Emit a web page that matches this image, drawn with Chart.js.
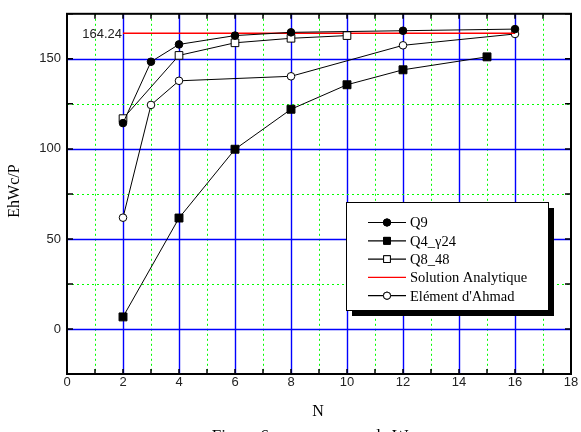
<!DOCTYPE html>
<html>
<head>
<meta charset="utf-8">
<script src="https://cdn.jsdelivr.net/npm/chart.js@4.4.1/dist/chart.umd.min.js"></script>
<style>
    html, body { margin: 0; padding: 0; background: #fff; }
    #wrap { width: 581px; height: 432px; position: relative; }
</style>
</head>
<body>
<div id="wrap"><canvas id="chart" width="581" height="432"></canvas></div>
<script>
// Valeurs
const xQ9 = [2, 3, 4, 6, 8, 12, 16];
const yQ9 = [114.3, 148.4, 158, 162.9, 164.7, 165.6, 166.5];

const xQ4 = [2, 4, 6, 8, 10, 12, 15];
const yQ4 = [6.7, 61.6, 99.8, 122, 135.6, 143.9, 151.1];

const xQ8 = [2, 4, 6, 8, 10];
const yQ8 = [116.8, 151.9, 158.9, 161.4, 162.9];

const xSol = [2, 16];
const ySol = [164.24, 164.24];

const xAhmad = [2, 3, 4, 8, 12, 16];
const yAhmad = [61.8, 124.4, 137.8, 140.3, 157.5, 163.8];

const xLabels = [0, 2, 4, 6, 8, 10, 12, 14, 16, 18];
const yLabels = [0, 50, 100, 150];

const seriesNames = ['Q9', 'Q4_\u03b324', 'Q8_48', 'Solution Analytique', "El\u00e9ment d'Ahmad"];

function pts(xs, ys) {
    return xs.map((x, i) => ({ x: x, y: ys[i] }));
}

const SERIF = "'Liberation Serif', 'Times New Roman', serif";
const SANS = "'Liberation Sans', Arial, sans-serif";
const BLUE = '#0000ff';
const GREEN = '#00ff00';

/**
 * Grille bleue (majeure) et verte pointillee (mineure)
 */
const gridPlugin = {
    id: 'grille',
    beforeDatasetsDraw(chart) {
        const ctx = chart.ctx;
        const a = chart.chartArea;
        const xs = chart.scales.x;
        const ys = chart.scales.y;
        ctx.save();
        for (let v = 1; v < 18; v++) {
            const px = Math.round(xs.getPixelForValue(v)) + 0.5;
            const major = v % 2 === 0;
            ctx.strokeStyle = major ? BLUE : GREEN;
            ctx.lineWidth = major ? 1.4 : 1;
            ctx.setLineDash(major ? [] : [2, 3]);
            ctx.beginPath();
            ctx.moveTo(px, a.top); ctx.lineTo(px, a.bottom);
            ctx.stroke();
        }
        for (let v = 0; v < 175; v += 25) {
            const py = Math.round(ys.getPixelForValue(v)) + 0.5;
            const major = v % 50 === 0;
            ctx.strokeStyle = major ? BLUE : GREEN;
            ctx.lineWidth = major ? 1.4 : 1;
            ctx.setLineDash(major ? [] : [2, 3]);
            ctx.beginPath();
            ctx.moveTo(a.left, py); ctx.lineTo(a.right, py);
            ctx.stroke();
        }
        ctx.restore();
    }
};

/**
 * Cadre, petites graduations, textes et legende
 */
const decorPlugin = {
    id: 'decor',
    afterDatasetsDraw(chart) {
        const ctx = chart.ctx;
        const a = chart.chartArea;
        const xs = chart.scales.x;
        const ys = chart.scales.y;
        ctx.save();

        // graduations interieures
        ctx.strokeStyle = '#000';
        ctx.lineWidth = 1.5;
        ctx.beginPath();
        for (let v = 0; v <= 18; v++) {
            const px = xs.getPixelForValue(v);
            ctx.moveTo(px, a.bottom); ctx.lineTo(px, a.bottom - 5);
            ctx.moveTo(px, a.top); ctx.lineTo(px, a.top + 5);
        }
        for (let v = -25; v <= 175; v += 25) {
            const py = ys.getPixelForValue(v);
            ctx.moveTo(a.left, py); ctx.lineTo(a.left + 6, py);
            ctx.moveTo(a.right, py); ctx.lineTo(a.right - 6, py);
        }
        ctx.stroke();

        // cadre
        ctx.lineWidth = 2;
        ctx.strokeRect(a.left, a.top, a.right - a.left, a.bottom - a.top);

        // valeur analytique
        ctx.fillStyle = '#222';
        ctx.font = '13px ' + SANS;
        ctx.textAlign = 'right';
        ctx.textBaseline = 'middle';
        ctx.fillText('164.24', xs.getPixelForValue(xSol[0]) - 1, ys.getPixelForValue(ySol[0]) + 1);

        // titres
        ctx.fillStyle = '#000';
        ctx.textAlign = 'center';
        ctx.font = '16px ' + SERIF;
        ctx.fillText('N', (a.left + a.right) / 2 - 1, 412);
        ctx.font = '17px ' + SERIF;
        ctx.textBaseline = 'alphabetic';
        ctx.fillText('Figure 6 : convergence de W', 310, 441);

        ctx.save();
        ctx.translate(15, 191);
        ctx.rotate(-Math.PI / 2);
        ctx.textBaseline = 'middle';
        ctx.font = '16px ' + SERIF;
        ctx.fillText('EhWc/P', 0, 0);
        ctx.restore();

        // legende
        const lx = 346, ly = 202, lw = 202, lh = 108;
        ctx.fillStyle = '#000';
        ctx.fillRect(lx + 6, ly + 6, lw, lh);
        ctx.fillStyle = '#fff';
        ctx.fillRect(lx, ly, lw, lh);
        ctx.strokeStyle = '#000';
        ctx.lineWidth = 1;
        ctx.strokeRect(lx + 0.5, ly + 0.5, lw, lh);

        chart.data.datasets.forEach((ds, i) => {
            const y = 222.5 + i * 18.3;
            ctx.strokeStyle = ds.borderColor;
            ctx.lineWidth = 1.2;
            ctx.beginPath();
            ctx.moveTo(368, y); ctx.lineTo(406, y);
            ctx.stroke();
            if (ds.pointRadius > 0) {
                const r = ds.pointStyle === 'rect' ? 4.8 : 3.6;
                ctx.fillStyle = ds.pointBackgroundColor;
                ctx.strokeStyle = '#000';
                ctx.lineWidth = 1;
                Chart.helpers.drawPoint(ctx, { pointStyle: ds.pointStyle, radius: r, borderWidth: 1, rotation: 0 }, 387, y);
                ctx.fill();
                ctx.stroke();
            }
            ctx.fillStyle = '#000';
            ctx.font = '14.5px ' + SERIF;
            ctx.textAlign = 'left';
            ctx.textBaseline = 'middle';
            ctx.fillText(ds.label, 410, y + 1);
        });

        ctx.restore();
    }
};

function serie(label, xs, ys, style, fill, radius) {
    return {
        label: label,
        data: pts(xs, ys),
        showLine: true,
        borderColor: '#000',
        borderWidth: 1,
        pointStyle: style,
        pointRadius: radius,
        pointBackgroundColor: fill,
        pointBorderColor: '#000',
        pointBorderWidth: 1,
        tension: 0
    };
}

const datasets = [
    serie(seriesNames[0], xQ9, yQ9, 'circle', '#000', 3.8),
    serie(seriesNames[1], xQ4, yQ4, 'rect', '#000', 5.6),
    serie(seriesNames[2], xQ8, yQ8, 'rect', '#fff', 5.4),
    {
        label: seriesNames[3],
        data: pts(xSol, ySol),
        showLine: true,
        borderColor: '#ff0000',
        borderWidth: 1.5,
        pointRadius: 0,
        pointBackgroundColor: '#ff0000'
    },
    serie(seriesNames[4], xAhmad, yAhmad, 'circle', '#fff', 3.8)
];

new Chart(document.getElementById('chart'), {
    type: 'scatter',
    data: { datasets: datasets },
    options: {
        responsive: false,
        animation: false,
        events: [],
        layout: { padding: { left: 0, top: 6, right: 10, bottom: 0 } },
        plugins: {
            legend: { display: false },
            tooltip: { enabled: false }
        },
        scales: {
            x: {
                type: 'linear',
                min: 0,
                max: 18,
                afterFit: s => { s.height = 58; },
                ticks: {
                    stepSize: 2,
                    autoSkip: false,
                    maxRotation: 0,
                    padding: 1,
                    color: '#222',
                    font: { family: SANS, size: 13 },
                    callback: v => xLabels.includes(v) ? String(v) : ''
                },
                grid: { display: false, drawTicks: false },
                border: { display: false }
            },
            y: {
                type: 'linear',
                min: -25,
                max: 175,
                afterFit: s => { s.width = 67; },
                ticks: {
                    stepSize: 25,
                    autoSkip: false,
                    padding: 6,
                    color: '#222',
                    font: { family: SANS, size: 13 },
                    callback: v => yLabels.includes(v) ? String(v) : ''
                },
                grid: { display: false, drawTicks: false },
                border: { display: false }
            }
        }
    },
    plugins: [gridPlugin, decorPlugin]
});
</script>
</body>
</html>
